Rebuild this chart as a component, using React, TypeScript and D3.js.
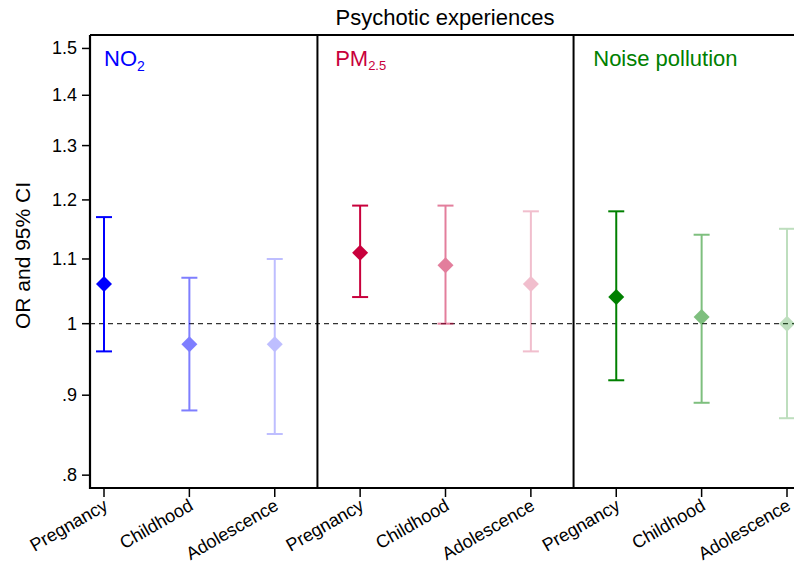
import React from "react";
import * as d3 from "d3";

const exposures = ["NO2", "PM2.5", "Noise pollution"];
const periods = ["Pregnancy", "Childhood", "Adolescence"];
const orValues = [
  [1.06, 0.97, 0.97],
  [1.11, 1.09, 1.06],
  [1.04, 1.01, 1.0],
];
const lowerCI = [
  [0.96, 0.88, 0.85],
  [1.04, 1.0, 0.96],
  [0.92, 0.89, 0.87],
];
const upperCI = [
  [1.17, 1.07, 1.1],
  [1.19, 1.19, 1.18],
  [1.18, 1.14, 1.15],
];
const yTicks = [0.8, 0.9, 1, 1.1, 1.2, 1.3, 1.4, 1.5];
const yTickLabels = [".8", ".9", "1", "1.1", "1.2", "1.3", "1.4", "1.5"];
const baseColors = ["#0000ff", "#c8003c", "#008000"];
const shadeOpacity = [1, 0.5, 0.25];

const W = 794;
const H = 565;
const left = 90;
const top = 35;
const bottom = 488;
const right = 800;

export default function App() {
  const y = d3.scaleLog().domain([0.785, 1.53]).range([bottom, top]);
  const x = d3.scaleLinear().domain([0, 8]).range([104, 787]);
  const font = "'Liberation Sans', Arial, sans-serif";
  const half = 8;
  const capHalf = 8;

  const items: any[] = [];
  exposures.forEach((e, gi) => {
    periods.forEach((p, pi) => {
      items.push({
        idx: gi * 3 + pi,
        or: orValues[gi][pi],
        lo: lowerCI[gi][pi],
        hi: upperCI[gi][pi],
        color: baseColors[gi],
        op: shadeOpacity[pi],
        label: p,
      });
    });
  });

  const dividers = [2.5, 5.5];

  return (
    <svg
      width={W}
      height={H}
      style={{ position: "absolute", left: 0, top: 0, background: "#fff" }}
      fontFamily={font}
    >
      <rect x={0} y={0} width={W} height={H} fill="#fff" />
      {/* title */}
      <text x={445} y={25} textAnchor="middle" fontSize={22} fill="#000">
        Psychotic experiences
      </text>
      {/* reference line */}
      <line
        x1={left}
        x2={right}
        y1={y(1)}
        y2={y(1)}
        stroke="#333"
        strokeWidth={1.3}
        strokeDasharray="5,4"
      />
      {/* dividers */}
      {dividers.map((d) => (
        <line key={d} x1={x(d)} x2={x(d)} y1={top} y2={bottom} stroke="#000" strokeWidth={2} />
      ))}
      {/* frame top and axes */}
      <line x1={left} x2={right} y1={top} y2={top} stroke="#000" strokeWidth={2} />
      <line x1={left} x2={left} y1={top} y2={bottom + 1} stroke="#000" strokeWidth={2.2} />
      <line x1={left - 1} x2={right} y1={bottom} y2={bottom} stroke="#000" strokeWidth={2.2} />
      {/* y ticks */}
      {yTicks.map((t, i) => (
        <g key={t}>
          <line x1={left - 8} x2={left} y1={y(t)} y2={y(t)} stroke="#000" strokeWidth={1.5} />
          <text
            x={left - 13}
            y={y(t)}
            textAnchor="end"
            dominantBaseline="central"
            fontSize={18}
            fill="#000"
          >
            {yTickLabels[i]}
          </text>
        </g>
      ))}
      {/* y title */}
      <text
        transform={`translate(30, ${(top + bottom) / 2 - 6}) rotate(-90)`}
        textAnchor="middle"
        fontSize={21}
        fill="#000"
      >
        OR and 95% CI
      </text>
      {/* x ticks */}
      {items.map((d) => (
        <g key={"xt" + d.idx}>
          <line x1={x(d.idx)} x2={x(d.idx)} y1={bottom} y2={bottom + 9} stroke="#000" strokeWidth={1.5} />
          <text
            transform={`translate(${x(d.idx) + 5}, ${bottom + 21}) rotate(-30)`}
            textAnchor="end"
            fontSize={18}
            fill="#000"
          >
            {d.label}
          </text>
        </g>
      ))}
      {/* panel labels */}
      <text x={x(0)} y={66} fontSize={22} fill={baseColors[0]}>
        NO<tspan fontSize={14} dy={5}>2</tspan>
      </text>
      <text x={x(3) - 25} y={66} fontSize={22} fill={baseColors[1]}>
        PM<tspan fontSize={13} dy={4}>2.5</tspan>
      </text>
      <text x={x(6) - 23} y={66} fontSize={22} fill={baseColors[2]}>
        Noise pollution
      </text>
      {/* error bars */}
      {items.map((d) => {
        const cx = x(d.idx);
        return (
          <g key={"eb" + d.idx} opacity={d.op}>
            <line x1={cx} x2={cx} y1={y(d.lo)} y2={y(d.hi)} stroke={d.color} strokeWidth={2} />
            <line x1={cx - capHalf} x2={cx + capHalf} y1={y(d.lo)} y2={y(d.lo)} stroke={d.color} strokeWidth={2} />
            <line x1={cx - capHalf} x2={cx + capHalf} y1={y(d.hi)} y2={y(d.hi)} stroke={d.color} strokeWidth={2} />
            <path
              d={`M${cx},${y(d.or) - half}L${cx + half},${y(d.or)}L${cx},${y(d.or) + half}L${cx - half},${y(d.or)}Z`}
              fill={d.color}
            />
          </g>
        );
      })}
    </svg>
  );
}
